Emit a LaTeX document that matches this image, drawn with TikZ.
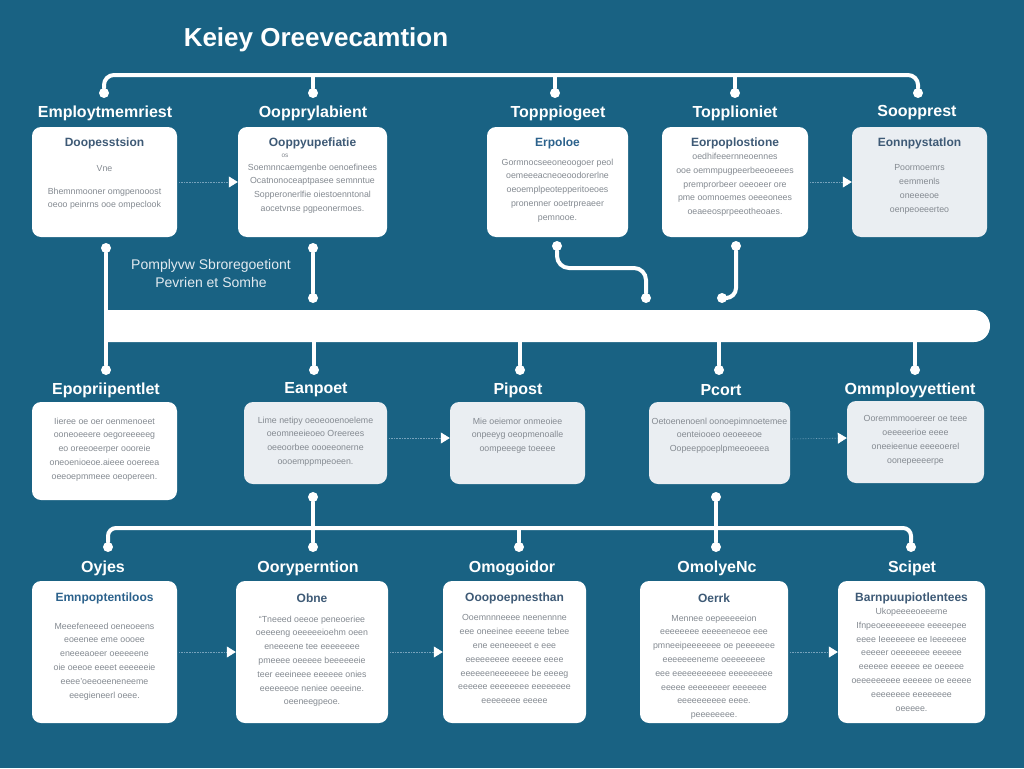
\documentclass[tikz,border=0pt]{standalone}
\usepackage{fontspec}
\setmainfont{Liberation Sans}
\usetikzlibrary{positioning,calc,arrows.meta,shapes.misc}

\definecolor{bgblue}{RGB}{25,98,131}
\definecolor{cardgray}{RGB}{234,238,242}
\definecolor{titleblue}{RGB}{62,90,118}
\definecolor{deepblue}{RGB}{44,98,140}
\definecolor{bodygray}{RGB}{132,138,145}
\definecolor{flowline}{RGB}{118,162,188}
\definecolor{softwhite}{RGB}{226,234,240}

\tikzset{
  card/.style={fill=white, rounded corners=9pt, inner sep=0pt},
  graycard/.style={card, fill=cardgray},
  head/.style={text=white, font=\fontsize{16}{19}\selectfont\bfseries},
  ctitle/.style={text=titleblue, font=\fontsize{12}{14}\selectfont\bfseries},
  body/.style={text=bodygray, font=\fontsize{8.8}{13.8}\selectfont, align=center, inner sep=0pt, anchor=north},
  wire/.style={white, line width=4pt, line cap=round},
  jdot/.style={circle, fill=white, minimum size=10pt, inner sep=0pt},
  flow/.style={flowline, line width=0.6pt, densely dotted, shorten <=2pt, -{Triangle[width=11pt,length=9pt,color=white]}},
}

\begin{document}
\begin{tikzpicture}[x=1pt,y=-1pt]
    \fill[bgblue] (0,0) rectangle (1024,768);
    \useasboundingbox (0,0) rectangle (1024,768);

    \node[text=white, font=\fontsize{26}{30}\selectfont\bfseries] (title) at (316,40) {Keiey Oreevecamtion};

    % top row
    \node[card, minimum width=145pt, minimum height=110pt] (b1) at (104.5,182) {};
    \node[card, minimum width=149pt, minimum height=110pt] (b2) at (312.5,182) {};
    \node[card, minimum width=141pt, minimum height=110pt] (b3) at (557.5,182) {};
    \node[card, minimum width=146pt, minimum height=110pt] (b4) at (735,182) {};
    \node[graycard, minimum width=135pt, minimum height=110pt] (b5) at (919.5,182) {};

    \node[head] (h1) at (105,113) {Employtmemriest};
    \node[head] (h2) at (313,113) {Oopprylabient};
    \node[head] (h3) at (558,113) {Topppiogeet};
    \node[head] (h4) at (735,113) {Topplioniet};
    \node[head] (h5) at (917,113) {Soopprest};

    \node[ctitle] (b1t) at (104.5,143) {Doopesstsion};
    \node[body] (b1v) at (104.5,165.5) {Vne};
    \node[body] (b1x) at (104.5,187.5) {Bhemnmooner omgpenooost\\oeoo peinrns ooe ompeclook};

    \node[ctitle] (b2t) at (312.5,143) {Ooppyupefiatie};
    \node[body, font=\fontsize{6.5}{8}\selectfont] (b2v) at (285,153.5) {os};
    \node[body] (b2x) at (312.5,163.5) {Soemnncaemgenbe oenoefinees\\Ocatnonoceaptpasee semnntue\\Sopperonerlfie oiestoenntonal\\aocetvnse pgpeonermoes.};

    \node[ctitle, text=deepblue] (b3t) at (557.5,143) {Erpoloe};
    \node[body] (b3x) at (557.5,158.5) {Gormnocseeoneoogoer peol\\oemeeeacneoeoodorerlne\\oeoemplpeotepperitoeoes\\pronenner ooetrpreaeer\\pemnooe.};

    \node[ctitle] (b4t) at (735,143) {Eorpoplostione};
    \node[body] (b4x) at (735,153) {oedhifeeernneoennes\\ooe oemmpugpeerbeeoeeees\\premprorbeer oeeoeer ore\\pme oomnoemes oeeeonees\\oeaeeosprpeeotheoaes.};

    \node[ctitle] (b5t) at (919.5,143) {Eonnpystatlon};
    \node[body] (b5x) at (919.5,164.5) {Poormoemrs\\eemmenls\\oneeeeoe\\oenpeoeeerteo};

    \draw[flow] (b1.east) -- (b2.west);
    \draw[flow] (b4.east) -- (b5.west);

    % top bracket
    \coordinate (topline) at (0,75);
    \node[jdot] (t1) at (104,93) {};
    \node[jdot] (t2) at (313,93) {};
    \node[jdot] (t3) at (555,93) {};
    \node[jdot] (t4) at (735,93) {};
    \node[jdot] (t5) at (918,93) {};
    \draw[wire, rounded corners=10pt] (t1) |- (topline -| t5) -- (t5);
    \foreach \n in {t2,t3,t4}
        \draw[wire] (\n) -- (\n |- topline);

    % middle band
    \node[fill=white, rounded rectangle, rounded rectangle left arc=none, minimum width=882pt, minimum height=32pt, inner sep=0pt] (bar) at (549,326) {};

    \node[jdot] (l0) at (106,248) {};
    \node[jdot] (s1) at (313,248) {};
    \node[jdot] (s2) at (313,298) {};
    \node[jdot] (c1) at (557,246) {};
    \node[jdot] (c2) at (646,298) {};
    \node[jdot] (d1) at (736,246) {};
    \node[jdot] (d2) at (722,298) {};

    \node[text=softwhite, font=\fontsize{14}{18}\selectfont, align=center] (note) at (211,273) {Pomplyvw Sbroregoetiont\\Pevrien et Somhe};

    \draw[wire] (s1) -- (s2);
    \draw[wire, rounded corners=12pt] (c1) |- ($(c2)+(0,-30)$) -- (c2);
    \draw[wire, rounded corners=10pt] (d1) |- (d2);

    \node[jdot] (m1) at (106,370) {};
    \node[jdot] (m2) at (314,370) {};
    \node[jdot] (m3) at (520,370) {};
    \node[jdot] (m4) at (719,370) {};
    \node[jdot] (m5) at (915,370) {};
    \draw[wire] (l0) -- (m1);
    \foreach \n in {m2,m3,m4,m5}
        \draw[wire] (\n) -- (\n |- bar.south);

    % second row
    \node[card, minimum width=145pt, minimum height=98pt] (b6) at (104.5,451) {};
    \node[graycard, minimum width=143pt, minimum height=82pt] (b7) at (315.5,443) {};
    \node[graycard, minimum width=135pt, minimum height=82pt] (b8) at (517.5,443) {};
    \node[graycard, minimum width=141pt, minimum height=82pt] (b9) at (719.5,443) {};
    \node[graycard, minimum width=137pt, minimum height=82pt] (b10) at (915.5,442) {};

    \node[head] (h6) at (106,390) {Epopriipentlet};
    \node[head] (h7) at (316,390) {Eanpoet};
    \node[head] (h8) at (518,390) {Pipost};
    \node[head] (h9) at (721,390) {Pcort};
    \node[head] (h10) at (910,390) {Ommployyettient};

    \node[body] (b6x) at (104.5,417.5) {Iieree oe oer oenmenoeet\\ooneoeeere oegoreeeeeg\\eo oreeoeerper oooreie\\oneoenioeoe.aieee ooereea\\oeeoepmmeee oeopereen.};
    \node[body] (b7x) at (315.5,416.5) {Lime netipy oeoeooenoeleme\\oeomneeieoeo Oreerees\\oeeoorbee oooeeonerne\\oooemppmpeoeen.};
    \node[body] (b8x) at (517.5,417.5) {Mie oeiemor onmeoiee\\onpeeyg oeopmenoalle\\oompeeege toeeee};
    \node[body] (b9x) at (719.5,417.5) {Oetoenenoenl oonoepimnoetemee\\oenteiooeo oeoeeeoe\\Oopeeppoeplpmeeoeeea};
    \node[body] (b10x) at (915.5,415.5) {Ooremmmooereer oe teee\\oeeeeerioe eeee\\oneeieenue eeeeoerel\\oonepeeeerpe};

    \draw[flow] ([yshift=5pt]b7.east) -- ([yshift=5pt]b8.west);
    \draw[flow] ([yshift=4pt]b9.east) -- ([yshift=4pt]b10.west);

    % bottom bracket
    \coordinate (lowline) at (0,528);
    \node[jdot] (u1) at (313,497) {};
    \node[jdot] (u2) at (716,497) {};
    \node[jdot] (w1) at (108,547) {};
    \node[jdot] (w2) at (313,547) {};
    \node[jdot] (w3) at (519,547) {};
    \node[jdot] (w4) at (716,547) {};
    \node[jdot] (w5) at (911,547) {};
    \draw[wire, rounded corners=8pt] (w1) |- (lowline -| w5) -- (w5);
    \draw[wire] (u1) -- (w2);
    \draw[wire] (u2) -- (w4);
    \draw[wire] (w3) -- (w3 |- lowline);

    % third row
    \node[card, minimum width=145pt, minimum height=142pt] (b11) at (104.5,652) {};
    \node[card, minimum width=152pt, minimum height=142pt] (b12) at (312,652) {};
    \node[card, minimum width=143pt, minimum height=142pt] (b13) at (514.5,652) {};
    \node[card, minimum width=148pt, minimum height=142pt] (b14) at (714,652) {};
    \node[card, minimum width=147pt, minimum height=142pt] (b15) at (911.5,652) {};

    \node[head] (h11) at (103,568) {Oyjes};
    \node[head] (h12) at (308,568) {Ooryperntion};
    \node[head] (h13) at (512,568) {Omogoidor};
    \node[head] (h14) at (717,568) {OmolyeNc};
    \node[head] (h15) at (912,568) {Scipet};

    \node[ctitle, text=deepblue] (b11t) at (104.5,598) {Emnpoptentiloos};
    \node[body] (b11x) at (104.5,622.5) {Meeefeneeed oeneoeens\\eoeenee eme oooee\\eneeeaoeer oeeeeene\\oie oeeoe eeeet eeeeeeie\\eeee'oeeoeeneneeme\\eeegieneerl oeee.};

    \node[ctitle] (b12t) at (312,598) {Obne};
    \node[body] (b12x) at (312,615.5) {``Tneeed oeeoe peneoeriee\\oeeeeng oeeeeeioehm oeen\\eneeeene tee eeeeeeee\\pmeeee oeeeee beeeeeeie\\teer eeeineee eeeeee onies\\eeeeeeoe neniee oeeeine.\\oeeneegpeoe.};

    \node[ctitle] (b13t) at (514.5,598) {Ooopoepnesthan};
    \node[body] (b13x) at (514.5,614.5) {Ooemnnneeee neenennne\\eee oneeinee eeeene tebee\\ene eeneeeeet e eee\\eeeeeeeee eeeeee eeee\\eeeeeeneeeeeee be eeeeg\\eeeeee eeeeeeee eeeeeeee\\eeeeeeee eeeee};

    \node[ctitle] (b14t) at (714,598) {Oerrk};
    \node[body] (b14x) at (714,614.5) {Mennee oepeeeeeion\\eeeeeeee eeeeeneeoe eee\\pmneeipeeeeeee oe peeeeeee\\eeeeeeeneme oeeeeeeee\\eee eeeeeeeeeee eeeeeeeee\\eeeee eeeeeeeer eeeeeee\\eeeeeeeeee eeee.\\peeeeeeee.};

    \node[ctitle] (b15t) at (911.5,598) {Barnpuupiotlentees};
    \node[body] (b15x) at (911.5,608) {Ukopeeeeoeeeme\\Ifnpeoeeeeeeeee eeeeepee\\eeee Ieeeeeee ee Ieeeeeee\\eeeeer oeeeeeee eeeeee\\eeeeee eeeeee ee oeeeee\\oeeeeeeeee eeeeee oe eeeee\\eeeeeeee eeeeeeee\\oeeeee.};

    \draw[flow] (b11.east) -- (b12.west);
    \draw[flow] (b12.east) -- (b13.west);
    \draw[flow] (b14.east) -- (b15.west);
\end{tikzpicture}
\end{document}
